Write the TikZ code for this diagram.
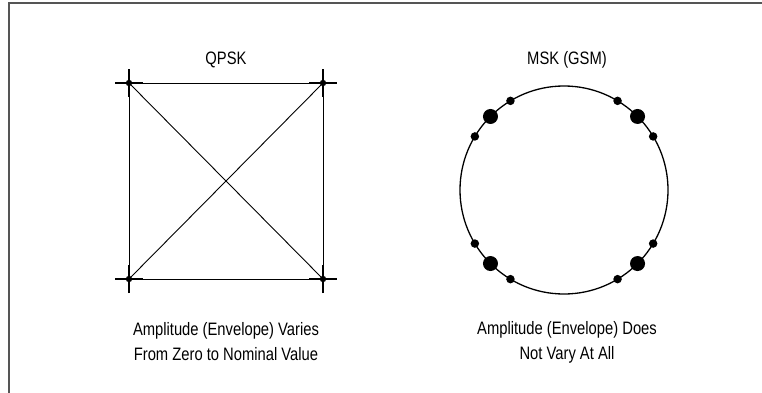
\documentclass[tikz,border=0pt]{standalone}
\usepackage{fontspec}
\setmainfont{Liberation Sans}[FakeStretch=0.82]
\usetikzlibrary{calc}
\definecolor{framegray}{HTML}{555555}
\begin{document}
\begin{tikzpicture}[x=1pt,y=-1pt,
  lbl/.style={font=\fontsize{18}{25}\selectfont, align=center, inner sep=0pt},
  thin line/.style={line width=0.9pt, black},
  cross/.style={line width=2.2pt, black},
  bigdot/.style={circle, fill=black, minimum size=15pt, inner sep=0pt},
  smalldot/.style={circle, fill=black, minimum size=8.5pt, inner sep=0pt}]
\useasboundingbox (0,0) rectangle (762,393);
% frame
\draw[framegray, line width=2pt] (9,393) -- (9,3) -- (762,3);
% QPSK
\node[lbl] (tq) at (226,60) {QPSK};
\coordinate (tl) at (129,83);
\coordinate (tr) at (323,83);
\coordinate (bl) at (129,279);
\coordinate (br) at (323,279);
\draw[thin line] (tl) -- (tr) -- (br) -- (bl) -- cycle;
\draw[thin line] (tl) -- (br);
\draw[thin line] (tr) -- (bl);
\foreach \c in {tl,tr,bl,br}{
  \draw[cross] ([xshift=-14pt]\c) -- ([xshift=14pt]\c);
  \draw[cross] ([yshift=-14pt]\c) -- ([yshift=14pt]\c);
  \fill (\c) circle (3.2pt);
}
\node[lbl] (bq) at (226,342) {Amplitude (Envelope) Varies\\From Zero to Nominal Value};
% MSK
\node[lbl] (tm) at (567,60) {MSK (GSM)};
\coordinate (c) at (564,190);
\draw[line width=1.3pt] (c) circle (104pt);
\foreach \a [count=\i] in {45,135,225,315}{
  \node[bigdot] (b\i) at ($(c)+(\a:104pt)$) {};
  \node[smalldot] (s\i a) at ($(c)+(\a-14:104pt)$) {};
  \node[smalldot] (s\i b) at ($(c)+(\a+14:104pt)$) {};
}
\node[lbl] (bm) at (567,342) {Amplitude (Envelope) Does\\Not Vary At All};
\end{tikzpicture}
\end{document}
